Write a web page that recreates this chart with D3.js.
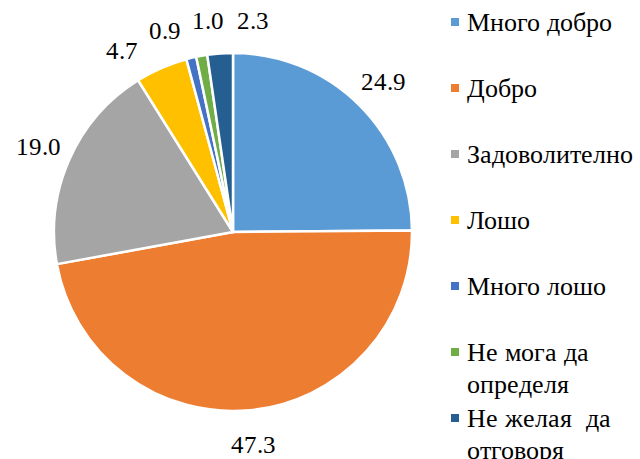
<!DOCTYPE html>
<html>
<head>
<meta charset="utf-8">
<script src="https://cdn.jsdelivr.net/npm/d3@7"></script>
<style>
  @font-face { font-family: "ChartSerif"; src: local("Liberation Serif"), local("LiberationSerif"), local("Liberation Serif Regular"), local("LiberationSerif-Regular"); }
  body { margin: 0; }
</style>
</head>
<body>
<div id="chart"></div>
<script>
// categories (legend), values (percent), colours
const categories = ["Много добро", "Добро", "Задоволително", "Лошо", "Много лошо", "Не мога да\nопределя", "Не желая  да\nотговоря"];
const values = [24.9, 47.3, 19.0, 4.7, 0.9, 1.0, 2.3];
const colors = ["#5B9BD5", "#ED7D31", "#A5A5A5", "#FFC000", "#4472C4", "#70AD47", "#255E91"];

const width = 640, height = 459;
const cx = 233, cy = 232, radius = 179;
const fontFamily = "ChartSerif, 'Liberation Serif'";

const svg = d3.select("#chart").append("svg")
    .attr("width", width)
    .attr("height", height);

const data = categories.map((c, i) => ({name: c, value: values[i], color: colors[i]}));

const pie = d3.pie().sort(null).value(d => d.value);
const arc = d3.arc().innerRadius(0).outerRadius(radius);
const arcs = pie(data);

// slices
svg.append("g").attr("transform", `translate(${cx},${cy})`)
    .selectAll("path")
    .data(arcs)
    .enter()
    .append("path")
    .attr("d", arc)
    .attr("fill", d => d.data.color)
    .attr("stroke", "#fff")
    .attr("stroke-width", 2.5)
    .attr("stroke-linejoin", "round");

// data labels placed outside, spread apart where they collide
const labelR = 213;
const fontSize = 25;
let labels = arcs.map(d => ({
    text: d3.format(".1f")(d.data.value),
    angle: (d.startAngle + d.endAngle) / 2,
    w: String(d3.format(".1f")(d.data.value)).length * fontSize * 0.44
}));
labels.forEach(l => { l.h = fontSize * 0.8; });

function pos(l) {
    return [cx + labelR * Math.sin(l.angle), cy - labelR * Math.cos(l.angle)];
}
function overlap(a, b) {
    const pa = pos(a), pb = pos(b);
    const ox = (a.w + b.w) / 2 + 10 - Math.abs(pa[0] - pb[0]);
    const oy = (a.h + b.h) / 2 + 14 - Math.abs(pa[1] - pb[1]);
    return ox > 0 && oy > 0;
}
for (let it = 0; it < 400; it++) {
    let moved = false;
    for (let i = 0; i < labels.length; i++) {
        const a = labels[i], b = labels[(i + 1) % labels.length];
        if (overlap(a, b)) {
            a.angle -= 0.004;
            b.angle += 0.004;
            moved = true;
        }
    }
    if (!moved) break;
}

labels.forEach(l => {
    svg.append("text")
        .attr("x", pos(l)[0])
        .attr("y", pos(l)[1] + fontSize * 0.35)
        .attr("text-anchor", "middle")
        .attr("font-size", fontSize)
        .style("font-family", fontFamily)
        .text(l.text);
});

// legend
const legendX = 451, legendY0 = 22, legendStep = 66, lineH = 32, legendFont = 26;
data.forEach((d, i) => {
    const y0 = legendY0 + i * legendStep;
    svg.append("rect")
        .attr("x", legendX)
        .attr("y", y0 - 4)
        .attr("width", 8)
        .attr("height", 8)
        .attr("fill", d.color);
    d.name.split("\n").forEach((line, j) => {
        svg.append("text")
            .attr("x", legendX + 16)
            .attr("y", y0 + j * lineH + legendFont * 0.35)
            .attr("font-size", legendFont)
            .style("font-family", fontFamily)
            .style("white-space", "pre")
            .text(line);
    });
});
</script>
</body>
</html>
